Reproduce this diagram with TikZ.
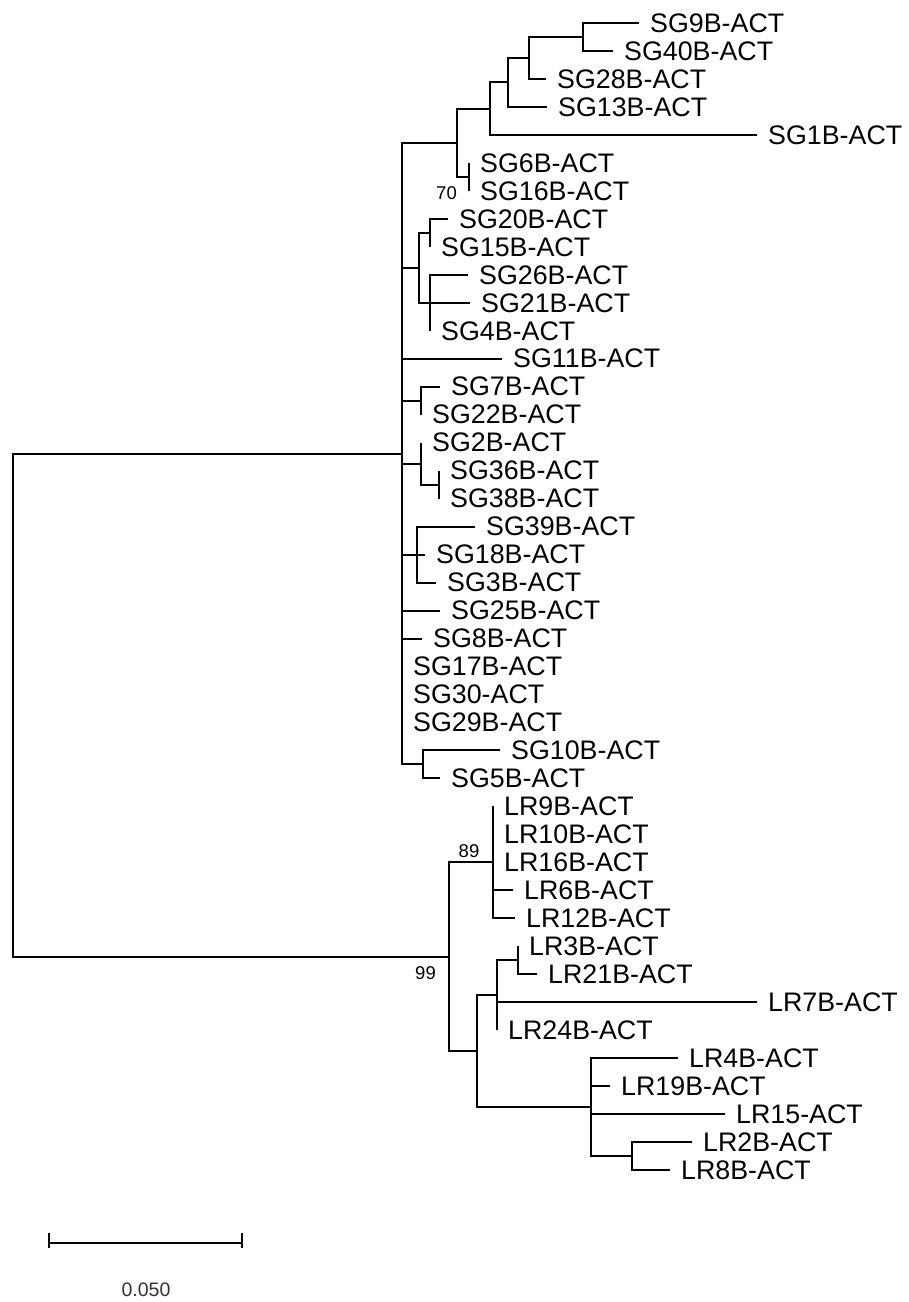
\documentclass[tikz,border=0pt]{standalone}
\usepackage{fontspec}
\setmainfont{Liberation Sans}
\tikzset{
  br/.style={line width=2pt},
  lab/.style={anchor=west, inner sep=0pt, xshift=11pt, font=\fontsize{26.8}{30}\selectfont},
  bs/.style={inner sep=0pt, font=\fontsize{18.5}{20}\selectfont},
  sc/.style={inner sep=0pt, text=black!80, font=\fontsize{19.5}{21}\selectfont}
}
\begin{document}
\begin{tikzpicture}[x=1pt, y=-27.98pt]
\useasboundingbox (0,-0.822) rectangle (908,45.711);
% tips
\coordinate (tSG9) at (639,0);
\coordinate (tSG40) at (613,1);
\coordinate (tSG28) at (546,2);
\coordinate (tSG13) at (547,3);
\coordinate (tSG1) at (757,4);
\coordinate (tSG6) at (469,5);
\coordinate (tSG16) at (469,6);
\coordinate (tSG20) at (448,7);
\coordinate (tSG15) at (430,8);
\coordinate (tSG26) at (468,9);
\coordinate (tSG21) at (470,10);
\coordinate (tSG4) at (430,11);
\coordinate (tSG11) at (502,12);
\coordinate (tSG7) at (440,13);
\coordinate (tSG22) at (421,14);
\coordinate (tSG2) at (421,15);
\coordinate (tSG36) at (439,16);
\coordinate (tSG38) at (439,17);
\coordinate (tSG39) at (475,18);
\coordinate (tSG18) at (425,19);
\coordinate (tSG3) at (436,20);
\coordinate (tSG25) at (440,21);
\coordinate (tSG8) at (422,22);
\coordinate (tSG17) at (402,23);
\coordinate (tSG30) at (402,24);
\coordinate (tSG29) at (402,25);
\coordinate (tSG10) at (500,26);
\coordinate (tSG5) at (440,27);
\coordinate (tLR9) at (493,28);
\coordinate (tLR10) at (493,29);
\coordinate (tLR16) at (493,30);
\coordinate (tLR6) at (513,31);
\coordinate (tLR12) at (515,32);
\coordinate (tLR3) at (518,33);
\coordinate (tLR21) at (537,34);
\coordinate (tLR7) at (757,35);
\coordinate (tLR24) at (497,36);
\coordinate (tLR4) at (678,37);
\coordinate (tLR19) at (610,38);
\coordinate (tLR15) at (725,39);
\coordinate (tLR2) at (692,40);
\coordinate (tLR8) at (670,41);
% internal nodes
\coordinate (n9) at (583,0.5);
\coordinate (n28) at (529,1.25);
\coordinate (n13) at (508,2.125);
\coordinate (n1) at (490,3.0625);
\coordinate (n6) at (469,5.5);
\coordinate (nA) at (457,4.28125);
\coordinate (n20) at (430,7.5);
\coordinate (n26) at (430,10);
\coordinate (nB) at (419,8.75);
\coordinate (n7) at (421,13.5);
\coordinate (n36) at (439,16.5);
\coordinate (n2) at (421,15.75);
\coordinate (n39) at (417,19);
\coordinate (n10) at (423,26.5);
\coordinate (nSG) at (402,15.390625);
\coordinate (n89) at (493,30);
\coordinate (n3) at (518,33.5);
\coordinate (nL7) at (497,34.75);
\coordinate (n22) at (632,40.5);
\coordinate (nL4) at (591,38.75);
\coordinate (nC) at (477,36.75);
\coordinate (nLR) at (449,33.375);
\coordinate (root) at (13,24.3828);
% branches
\draw[br] (n9) |- (tSG9) (n9) |- (tSG40);
\draw[br] (n28) |- (n9) (n28) |- (tSG28);
\draw[br] (n13) |- (n28) (n13) |- (tSG13);
\draw[br] (n1) |- (n13) (n1) |- (tSG1);
\draw[br] (n6) |- (tSG6) (n6) |- (tSG16);
\draw[br] (nA) |- (n1) (nA) |- (n6);
\draw[br] (n20) |- (tSG20) (n20) |- (tSG15);
\draw[br] (n26) |- (tSG26) (n26) |- (tSG21) (n26) |- (tSG4);
\draw[br] (nB) |- (n20) (nB) |- (n26);
\draw[br] (n7) |- (tSG7) (n7) |- (tSG22);
\draw[br] (n36) |- (tSG36) (n36) |- (tSG38);
\draw[br] (n2) |- (tSG2) (n2) |- (n36);
\draw[br] (n39) |- (tSG39) (n39) |- (tSG18) (n39) |- (tSG3);
\draw[br] (n10) |- (tSG10) (n10) |- (tSG5);
\draw[br] (nSG) |- (nA) (nSG) |- (nB) (nSG) |- (tSG11) (nSG) |- (n7)
  (nSG) |- (n2) (nSG) |- (n39) (nSG) |- (tSG25) (nSG) |- (tSG8)
  (nSG) |- (tSG17) (nSG) |- (tSG30) (nSG) |- (tSG29) (nSG) |- (n10);
\draw[br] (n89) |- (tLR9) (n89) |- (tLR10) (n89) |- (tLR16) (n89) |- (tLR6) (n89) |- (tLR12);
\draw[br] (n3) |- (tLR3) (n3) |- (tLR21);
\draw[br] (nL7) |- (n3) (nL7) |- (tLR7) (nL7) |- (tLR24);
\draw[br] (n22) |- (tLR2) (n22) |- (tLR8);
\draw[br] (nL4) |- (tLR4) (nL4) |- (tLR19) (nL4) |- (tLR15) (nL4) |- (n22);
\draw[br] (nC) |- (nL7) (nC) |- (nL4);
\draw[br] (nLR) |- (n89) (nLR) |- (nC);
\draw[br] (root) |- (nSG) (root) |- (nLR);
% labels
\node[lab] (lSG9) at (tSG9) {SG9B-ACT};
\node[lab] (lSG40) at (tSG40) {SG40B-ACT};
\node[lab] (lSG28) at (tSG28) {SG28B-ACT};
\node[lab] (lSG13) at (tSG13) {SG13B-ACT};
\node[lab] (lSG1) at (tSG1) {SG1B-ACT};
\node[lab] (lSG6) at (tSG6) {SG6B-ACT};
\node[lab] (lSG16) at (tSG16) {SG16B-ACT};
\node[lab] (lSG20) at (tSG20) {SG20B-ACT};
\node[lab] (lSG15) at (tSG15) {SG15B-ACT};
\node[lab] (lSG26) at (tSG26) {SG26B-ACT};
\node[lab] (lSG21) at (tSG21) {SG21B-ACT};
\node[lab] (lSG4) at (tSG4) {SG4B-ACT};
\node[lab] (lSG11) at (tSG11) {SG11B-ACT};
\node[lab] (lSG7) at (tSG7) {SG7B-ACT};
\node[lab] (lSG22) at (tSG22) {SG22B-ACT};
\node[lab] (lSG2) at (tSG2) {SG2B-ACT};
\node[lab] (lSG36) at (tSG36) {SG36B-ACT};
\node[lab] (lSG38) at (tSG38) {SG38B-ACT};
\node[lab] (lSG39) at (tSG39) {SG39B-ACT};
\node[lab] (lSG18) at (tSG18) {SG18B-ACT};
\node[lab] (lSG3) at (tSG3) {SG3B-ACT};
\node[lab] (lSG25) at (tSG25) {SG25B-ACT};
\node[lab] (lSG8) at (tSG8) {SG8B-ACT};
\node[lab] (lSG17) at (tSG17) {SG17B-ACT};
\node[lab] (lSG30) at (tSG30) {SG30-ACT};
\node[lab] (lSG29) at (tSG29) {SG29B-ACT};
\node[lab] (lSG10) at (tSG10) {SG10B-ACT};
\node[lab] (lSG5) at (tSG5) {SG5B-ACT};
\node[lab] (lLR9) at (tLR9) {LR9B-ACT};
\node[lab] (lLR10) at (tLR10) {LR10B-ACT};
\node[lab] (lLR16) at (tLR16) {LR16B-ACT};
\node[lab] (lLR6) at (tLR6) {LR6B-ACT};
\node[lab] (lLR12) at (tLR12) {LR12B-ACT};
\node[lab] (lLR3) at (tLR3) {LR3B-ACT};
\node[lab] (lLR21) at (tLR21) {LR21B-ACT};
\node[lab] (lLR7) at (tLR7) {LR7B-ACT};
\node[lab] (lLR24) at (tLR24) {LR24B-ACT};
\node[lab] (lLR4) at (tLR4) {LR4B-ACT};
\node[lab] (lLR19) at (tLR19) {LR19B-ACT};
\node[lab] (lLR15) at (tLR15) {LR15-ACT};
\node[lab] (lLR2) at (tLR2) {LR2B-ACT};
\node[lab] (lLR8) at (tLR8) {LR8B-ACT};
% bootstrap values
\node[bs, anchor=east] (b70) at (457,6.09) {70};
\node[bs] (b89) at (469,29.61) {89};
\node[bs, anchor=east] (b99) at (436,33.95) {99};
% scale bar
\coordinate (s1) at (49,43.60);
\coordinate (s2) at (242,43.60);
\draw[line width=1.8pt] (s1) -- (s2);
\draw[line width=1.8pt] (49,43.25) -- (49,43.78) (242,43.25) -- (242,43.78);
\node[sc] (scl) at (146,45.28) {0.050};
\end{tikzpicture}
\end{document}
